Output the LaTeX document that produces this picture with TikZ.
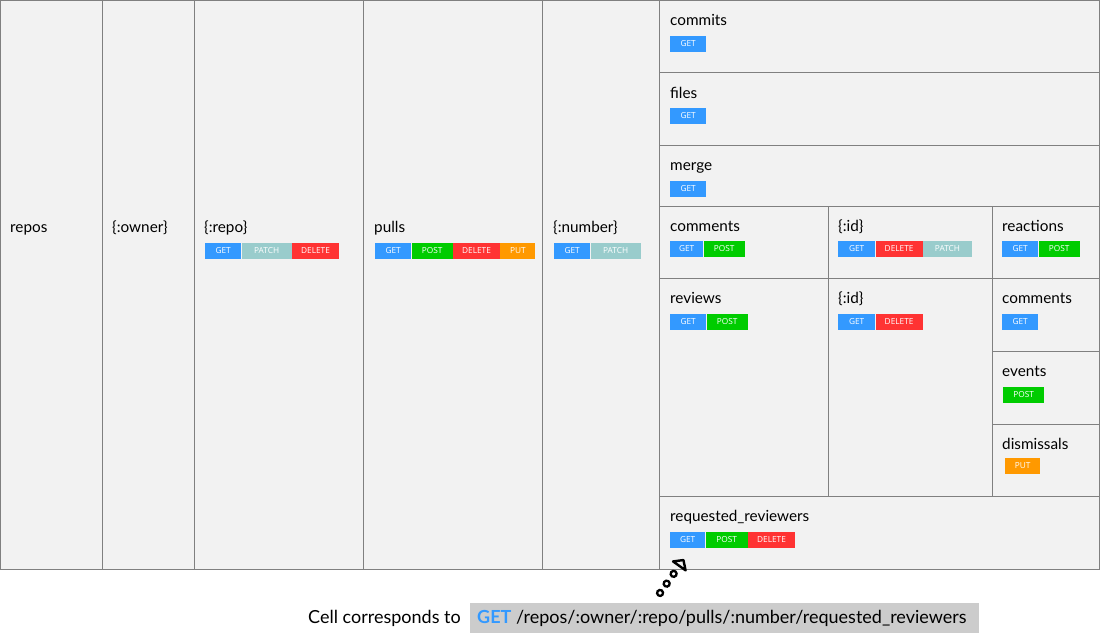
\documentclass[tikz,border=0pt]{standalone}
\usepackage{fontspec}
\setmainfont{Lato}
\newfontfamily\badgefont{Open Sans}
\usepackage{tikz}
\usetikzlibrary{arrows.meta,decorations.markings}

\definecolor{cellbg}{HTML}{F2F2F2}
\definecolor{cellline}{HTML}{808080}
\definecolor{getblue}{HTML}{3399FF}
\definecolor{postgreen}{HTML}{00CC00}
\definecolor{deletered}{HTML}{FF3333}
\definecolor{patchteal}{HTML}{99CCCC}
\definecolor{putorange}{HTML}{FF9900}
\definecolor{notegray}{HTML}{CCCCCC}

\tikzset{
  label/.style={anchor=base west, inner sep=0pt, font=\fontsize{15.3}{17}\selectfont},
  badge/.style={anchor=west, inner sep=0pt, minimum height=16.5pt, text=white,
    font=\badgefont\fontsize{8.3}{9}\selectfont},
  getb/.style={badge, fill=getblue, minimum width=36pt},
  postb/.style={badge, fill=postgreen, minimum width=41pt},
  deleteb/.style={badge, fill=deletered, minimum width=47pt},
  patchb/.style={badge, fill=patchteal, minimum width=50pt},
  putb/.style={badge, fill=putorange, minimum width=35pt},
  ring/.style={line width=2.3pt},
  pointer/.style={line width=2.4pt, postaction={decorate},
    decoration={markings,
      mark=at position 0.1pt with {\draw[ring] (0,0) circle (3pt);},
      mark=at position 11.5pt with {\draw[ring] (0,0) circle (3pt);},
      mark=at position 23.5pt with {\draw[ring] (0,0) circle (3pt);},
      mark=at position -13pt with {\arrow{Triangle[open,length=10pt,width=21pt,line width=2.4pt,round]}}}}
}

\begin{document}
\begin{tikzpicture}[x=1pt,y=-1pt]
\useasboundingbox (0,0) rectangle (1100,633);

% table
\fill[cellbg] (0,0) rectangle (1100,569);
\draw[cellline] (0.5,0.5) rectangle (1099.5,569);
\draw[cellline] (102,0) -- (102,569) (194,0) -- (194,569) (363,0) -- (363,569)
  (542,0) -- (542,569) (659,0) -- (659,569);
\draw[cellline] (659,72) -- (1100,72) (659,145) -- (1100,145) (659,206) -- (1100,206)
  (659,278) -- (1100,278) (659,496) -- (1100,496);
\draw[cellline] (828,206) -- (828,496) (992,206) -- (992,496);
\draw[cellline] (992,351) -- (1100,351) (992,424) -- (1100,424);

% path segments
\node[label] (repos) at (10,232) {repos};
\node[label] (owner) at (112,232) {\{:owner\}};

\node[label] (repo) at (204,232) {\{:repo\}};
\node[getb] (repoget) at (205,251) {GET};
\node[patchb] (repopatch) at (repoget.east) {PATCH};
\node[deleteb] (repodelete) at (repopatch.east) {DELETE};

\node[label] (pulls) at (374,232) {pulls};
\node[getb] (pullsget) at (375,251) {GET};
\node[postb] (pullspost) at (pullsget.east) {POST};
\node[deleteb] (pullsdelete) at (pullspost.east) {DELETE};
\node[putb] (pullsput) at (pullsdelete.east) {PUT};

\node[label] (number) at (553,232) {\{:number\}};
\node[getb] (numberget) at (554,251) {GET};
\node[patchb] (numberpatch) at (numberget.east) {PATCH};

\node[label] (commits) at (670,25) {commits};
\node[getb] (commitsget) at (670,44) {GET};

\node[label] (files) at (670,98) {files};
\node[getb] (filesget) at (670,116) {GET};

\node[label] (merge) at (670,170) {merge};
\node[getb] (mergeget) at (670,189) {GET};

\node[label] (comments) at (670,231) {comments};
\node[getb, minimum width=33pt] (commentsget) at (670,249) {GET};
\node[postb] (commentspost) at (commentsget.east) {POST};

\node[label] (commentid) at (838,231) {\{:id\}};
\node[getb, minimum width=37pt] (commentidget) at (838,249) {GET};
\node[deleteb] (commentiddelete) at (commentidget.east) {DELETE};
\node[patchb, minimum width=49pt] (commentidpatch) at (commentiddelete.east) {PATCH};

\node[label] (reactions) at (1002,231) {reactions};
\node[getb] (reactionsget) at (1002,249) {GET};
\node[postb] (reactionspost) at (reactionsget.east) {POST};

\node[label] (reviews) at (670,303) {reviews};
\node[getb] (reviewsget) at (670,322) {GET};
\node[postb] (reviewspost) at (reviewsget.east) {POST};

\node[label] (reviewid) at (838,303) {\{:id\}};
\node[getb, minimum width=37pt] (reviewidget) at (838,322) {GET};
\node[deleteb] (reviewiddelete) at (reviewidget.east) {DELETE};

\node[label] (reviewcomments) at (1002,303) {comments};
\node[getb] (reviewcommentsget) at (1002,322) {GET};

\node[label] (events) at (1002,376) {events};
\node[postb] (eventspost) at (1003,395) {POST};

\node[label] (dismissals) at (1002,449) {dismissals};
\node[putb] (dismissalsput) at (1005,466) {PUT};

\node[label] (requested) at (670,521) {requested\_reviewers};
\node[getb, minimum width=35pt] (rrget) at (670,540) {GET};
\node[postb, minimum width=42pt] (rrpost) at (rrget.east) {POST};
\node[deleteb] (rrdelete) at (rrpost.east) {DELETE};

% note below the table
\node[anchor=base east, inner sep=0pt, font=\fontsize{18}{20}\selectfont] (cellnote) at (461,623) {Cell corresponds to};
\fill[notegray] (470,603) rectangle (979,633);
\node[anchor=base west, inner sep=0pt, font=\fontsize{18}{20}\selectfont] (cellpath) at (477,623)
  {\textcolor{getblue}{\textbf{GET}} /repos/:owner/:repo/pulls/:number/requested\_reviewers};

\coordinate (arrowfoot) at (660,593);
\path[pointer] (arrowfoot) -- ([xshift=4pt]rrget.south);

\end{tikzpicture}
\end{document}
